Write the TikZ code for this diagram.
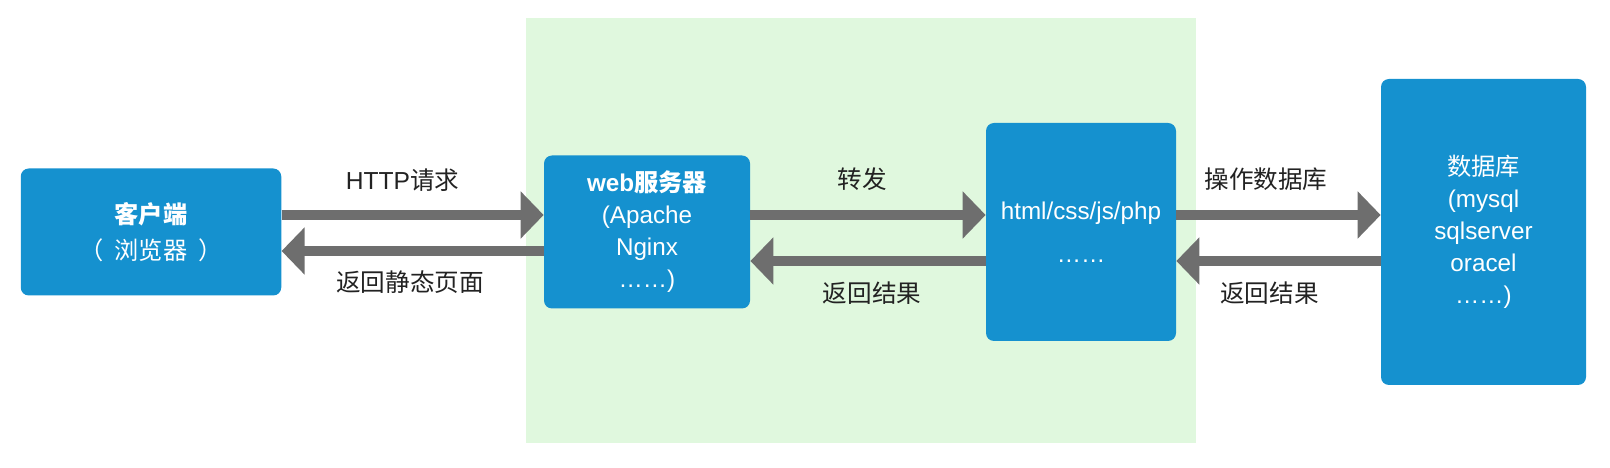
\documentclass[tikz,border=0pt]{standalone}
\usepackage{fontspec}
\setmainfont{Liberation Sans}
\newfontfamily\cjk{Noto Sans CJK SC}
\usetikzlibrary{arrows.meta}

\definecolor{boxblue}{HTML}{1591CF}
\definecolor{bggreen}{HTML}{E0F8DE}
\definecolor{arrowgray}{HTML}{6E6E6E}
\definecolor{labeltext}{HTML}{222222}

\tikzset{
    tierbox/.style={rectangle, rounded corners=0.16cm, fill=boxblue, text=white, align=center, inner sep=0pt, font=\fontsize{13.8}{18.2}\selectfont},
    flowlabel/.style={text=labeltext, inner sep=0pt, font=\fontsize{14}{16}\selectfont},
}

\begin{document}
\begin{tikzpicture}
    \useasboundingbox (0,0) rectangle (32.2,-9.36);
    \fill[bggreen] (10.52,-0.37) rectangle (23.92,-8.87);

    \begin{scope}[every node/.style={tierbox}]
        \node[minimum width=5.21cm, minimum height=2.54cm] (client) at (3.02,-4.64) {{\cjk\bfseries 客户端}\\[2pt]{\cjk （\hspace{0.22cm}浏览器\hspace{0.22cm}）}};
        \node[minimum width=4.12cm, minimum height=3.06cm] (web) at (12.94,-4.64) {\textbf{web}{\cjk\bfseries 服务器}\\(Apache\\Nginx\\……)};
        \node[minimum width=3.80cm, minimum height=4.36cm] (app) at (21.62,-4.64) {html/css/js/php\\[6pt]……};
        \node[minimum width=4.10cm, minimum height=6.12cm] (db) at (29.67,-4.64) {{\cjk 数据库}\\(mysql\\sqlserver\\oracel\\……)};
    \end{scope}

    \begin{scope}[every edge/.style={draw, arrowgray, line width=0.2cm, -{Triangle[length=0.46cm, width=0.92cm]}}]
        \path ([yshift=0.34cm]client.east) edge node[flowlabel, xshift=-0.2cm, yshift=0.7cm] (lblhttp) {HTTP{\cjk 请求}} ([yshift=0.34cm]web.west);
        \path ([yshift=-0.38cm]web.west) edge node[flowlabel, xshift=-0.05cm, yshift=-0.62cm] (lblstatic) {\cjk 返回静态页面} ([yshift=-0.38cm]client.east);

        \path ([yshift=0.34cm]web.east) edge node[flowlabel, xshift=-0.12cm, yshift=0.72cm] (lblfwd) {\cjk 转发} ([yshift=0.34cm]app.west);
        \path ([yshift=-0.58cm]app.west) edge node[flowlabel, xshift=0.08cm, yshift=-0.64cm] (lblres) {\cjk 返回结果} ([yshift=-0.58cm]web.east);

        \path ([yshift=0.34cm]app.east) edge node[flowlabel, xshift=-0.25cm, yshift=0.72cm] (lbldbop) {\cjk 操作数据库} ([yshift=0.34cm]db.west);
        \path ([yshift=-0.58cm]db.west) edge node[flowlabel, xshift=-0.18cm, yshift=-0.64cm] (lbldbres) {\cjk 返回结果} ([yshift=-0.58cm]app.east);
    \end{scope}
\end{tikzpicture}
\end{document}
